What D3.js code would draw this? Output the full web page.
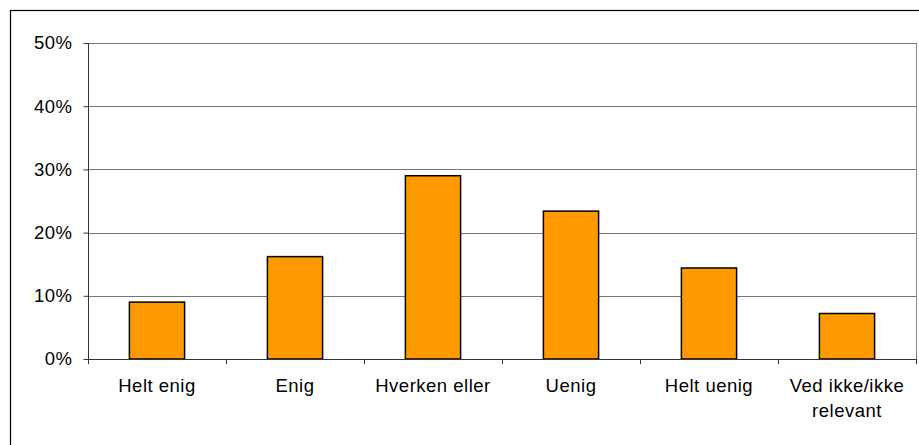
<!DOCTYPE html>
<html><head><meta charset="utf-8">
<script src="https://cdn.jsdelivr.net/npm/d3@7"></script>
<style>body{margin:0;background:#fff}svg{display:block;font-family:"Liberation Sans",Arial,sans-serif}</style>
</head><body><svg id="c" width="919" height="445"></svg>
<script>
const categories = ["Helt enig","Enig","Hverken eller","Uenig","Helt uenig","Ved ikke/ikke relevant"];
const values = [9.0, 16.2, 29.0, 23.4, 14.4, 7.2];
const yTicks = [0,10,20,30,40,50];

const svg = d3.select("#c");
const m = {l:88, r:916, t:43, b:359};
const FS = 18.5;
svg.append("rect").attr("x",10.5).attr("y",10.5).attr("width",920).attr("height",440)
  .attr("fill","none").attr("stroke","#000").attr("stroke-width",1.2);

const x = d3.scaleBand().domain(categories).range([m.l,m.r]).paddingInner(0.6).paddingOuter(0.3);
const y = d3.scaleLinear().domain([0,50]).range([m.b,m.t]);

svg.append("line").attr("x1",m.r+0.5).attr("x2",m.r+0.5).attr("y1",m.t).attr("y2",m.b).attr("stroke","#888");
svg.append("g").selectAll("line").data(yTicks.filter(d=>d>0)).join("line")
  .attr("x1",m.l).attr("x2",m.r).attr("y1",d=>Math.round(y(d))+0.5).attr("y2",d=>Math.round(y(d))+0.5)
  .attr("stroke","#777").attr("stroke-width",1);

svg.append("g").selectAll("rect").data(values).join("rect")
  .attr("x",(d,i)=>x(categories[i])).attr("width",x.bandwidth())
  .attr("y",d=>y(d)).attr("height",d=>y(0)-y(d))
  .attr("fill","#FF9900").attr("stroke","#000").attr("stroke-width",1.5);

const ya = svg.append("g").attr("transform",`translate(${m.l+0.5},0)`)
  .call(d3.axisLeft(y).tickValues(yTicks).tickFormat(d=>d+"%").tickSize(5).tickPadding(11));
ya.attr("font-size",null).attr("font-family",null);
ya.select(".domain").attr("stroke","#333").attr("d",`M0,${m.t}V${m.b}`);
ya.selectAll(".tick line").attr("stroke","#333");
ya.selectAll("text").style("font-size",FS+"px").style("letter-spacing","0.5px").attr("fill","#000");

svg.append("line").attr("x1",m.l).attr("x2",m.r+1).attr("y1",m.b+0.5).attr("y2",m.b+0.5).attr("stroke","#333");
const bounds = d3.range(categories.length+1).map(i=>m.l + (m.r-m.l)*i/categories.length);
svg.append("g").selectAll("line").data(bounds).join("line")
  .attr("x1",d=>Math.round(d)+0.5).attr("x2",d=>Math.round(d)+0.5).attr("y1",m.b).attr("y2",m.b+5).attr("stroke","#333");

const labels = svg.append("g").style("font-size",FS+"px").style("letter-spacing","0.5px").attr("text-anchor","middle");
const lines = {"Ved ikke/ikke relevant":["Ved ikke/ikke","relevant"]};
categories.forEach((c,i)=>{
  const cx = x(c)+x.bandwidth()/2;
  const ls = lines[c]||[c];
  const t = labels.append("text").attr("x",cx).attr("y",392);
  ls.forEach((l,j)=>t.append("tspan").attr("x",cx).attr("dy",j?25:0).text(l));
});
</script></body></html>
